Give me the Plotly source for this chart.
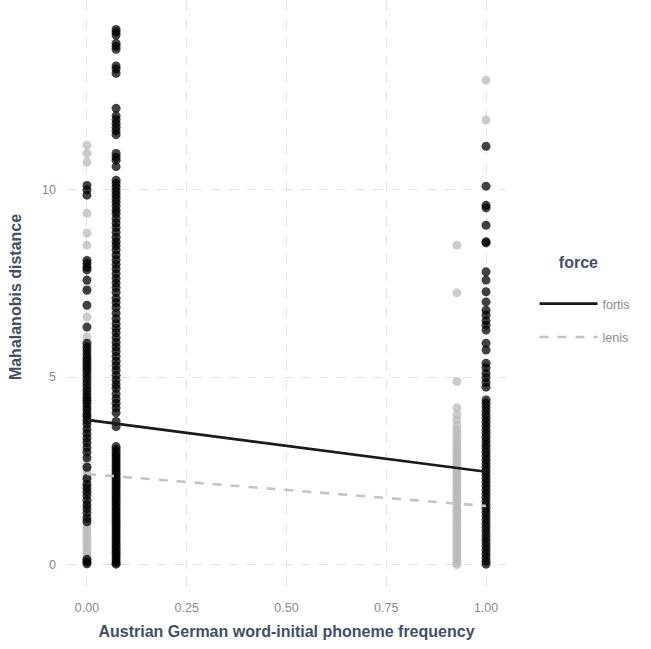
import plotly.graph_objects as go

# x positions (phoneme frequency) of the point columns
x_zero = 0.0
x_low = 0.073
x_high = 0.927
x_one = 1.0

# Mahalanobis distances
fortis_at_zero = [10.1, 9.98, 9.84, 8.1, 8.02, 7.92, 7.85, 7.58, 7.31, 6.91, 6.33, 5.9, 5.8, 5.7, 5.6,
                  5.5, 5.42, 5.33, 5.25, 5.15, 5.05, 4.95, 4.85, 4.75, 4.65, 4.55, 4.45, 4.38, 4.3, 4.2,
                  4.12, 4.02, 3.95, 3.85, 3.75, 3.62, 3.5, 3.38, 3.25, 3.12, 3.0, 2.85, 2.6, 2.3, 2.15,
                  2.05, 1.95, 1.85, 1.72, 1.6, 1.5, 1.38, 1.25, 1.15, 0.15, 0.08, 0.03]
lenis_at_zero = [11.17, 10.95, 10.72, 9.36, 8.83, 8.51, 7.95, 7.4, 6.6, 6.06, 5.2, 4.6, 3.3, 2.75, 2.6,
                 2.5, 2.4, 2.3, 2.2, 1.05, 0.95, 0.85, 0.75, 0.65, 0.55, 0.45, 0.35, 0.25, 0.12]
fortis_at_low = [14.25, 14.18, 14.1, 13.88, 13.8, 13.72, 13.28, 13.2, 13.08, 12.15, 11.95, 11.85, 11.75,
                 11.65, 11.55, 11.45, 10.95, 10.85, 10.77, 10.6, 10.24, 10.15, 10.05, 9.95, 9.85, 9.75,
                 9.65, 9.55, 9.44, 9.35, 9.22, 9.1, 8.98, 8.85, 8.72, 8.6, 8.5, 8.38, 8.25, 8.12, 8.0,
                 7.88, 7.75, 7.62, 7.5, 7.38, 7.25, 7.1, 6.98, 6.85, 6.7, 6.55, 6.42, 6.3, 6.18, 6.05,
                 5.92, 5.8, 5.68, 5.55, 5.42, 5.3, 5.18, 5.05, 4.92, 4.8, 4.7, 4.55, 4.42, 4.3, 4.18,
                 4.05, 3.82, 3.68, 3.15, 3.08, 3.0, 2.93, 2.86, 2.79, 2.72, 2.65, 2.58, 2.51, 2.44, 2.37,
                 2.3, 2.23, 2.16, 2.09, 2.02, 1.95, 1.88, 1.81, 1.74, 1.67, 1.6, 1.53, 1.46, 1.39, 1.32,
                 1.25, 1.18, 1.11, 1.04, 0.97, 0.9, 0.83, 0.76, 0.69, 0.62, 0.55, 0.48, 0.41, 0.34, 0.27,
                 0.2, 0.13, 0.06, 0.02]
lenis_at_high = [8.51, 7.24, 4.88, 4.18, 4.0, 3.86, 3.72, 3.6, 3.5, 3.4, 3.3, 3.2, 3.1, 3.02, 2.94, 2.86,
                 2.78, 2.7, 2.62, 2.54, 2.46, 2.38, 2.3, 2.22, 2.14, 2.06, 1.98, 1.9, 1.82, 1.74, 1.66,
                 1.58, 1.5, 1.42, 1.34, 1.26, 1.18, 1.1, 1.02, 0.94, 0.86, 0.78, 0.7, 0.62, 0.54, 0.46,
                 0.38, 0.3, 0.22, 0.14, 0.06, 0.01]
fortis_at_one = [11.14, 10.08, 9.57, 9.5, 9.04, 8.6, 8.57, 7.8, 7.58, 7.27, 7.0, 6.78, 6.65, 6.5, 6.38,
                 6.25, 5.9, 5.72, 5.37, 5.25, 5.1, 4.98, 4.85, 4.73, 4.39, 4.3, 4.2, 4.1, 4.0, 3.9, 3.8,
                 3.7, 3.6, 3.5, 3.4, 3.3, 3.2, 3.1, 3.0, 2.9, 2.8, 2.7, 2.6, 2.5, 2.4, 2.3, 2.2, 2.1,
                 2.0, 1.9, 1.8, 1.7, 1.6, 1.5, 1.4, 1.3, 1.2, 1.1, 1.0, 0.9, 0.8, 0.7, 0.6, 0.5, 0.4,
                 0.3, 0.2, 0.1, 0.02]
lenis_at_one = [12.9, 11.84]

# fitted regression lines
line_x = [0.0, 1.0]
fortis_fit = [3.86, 2.48]
lenis_fit = [2.42, 1.57]

fortis_pt = "rgba(0,0,0,0.74)"
lenis_pt = "rgba(185,185,185,0.72)"
title_col = "#3f5068"
tick_col = "#8a8a8a"

fig = go.Figure()

lenis_x = [x_zero] * len(lenis_at_zero) + [x_high] * len(lenis_at_high) + [x_one] * len(lenis_at_one)
lenis_y = lenis_at_zero + lenis_at_high + lenis_at_one
fortis_x = [x_zero] * len(fortis_at_zero) + [x_low] * len(fortis_at_low) + [x_one] * len(fortis_at_one)
fortis_y = fortis_at_zero + fortis_at_low + fortis_at_one

fig.add_trace(go.Scatter(x=lenis_x, y=lenis_y, mode="markers", showlegend=False,
                         marker=dict(size=9, color=lenis_pt, line=dict(width=0)), hoverinfo="skip"))
fig.add_trace(go.Scatter(x=fortis_x, y=fortis_y, mode="markers", showlegend=False,
                         marker=dict(size=9, color=fortis_pt, line=dict(width=0)), hoverinfo="skip"))

fig.add_trace(go.Scatter(x=line_x, y=fortis_fit, mode="lines", name="fortis", legendgroup="a",
                         line=dict(color="#1a1a1a", width=2.6)))
fig.add_trace(go.Scatter(x=line_x, y=lenis_fit, mode="lines", name="lenis", legendgroup="b",
                         line=dict(color="#c4c4c4", width=2.6, dash="dash")))

fig.update_layout(
    width=651, height=649,
    margin=dict(l=67, r=145, t=2, b=57),
    paper_bgcolor="white", plot_bgcolor="white",
    font=dict(family="Liberation Sans, Arial, sans-serif", size=12, color=tick_col),
    legend=dict(
        title=dict(text="<b>force</b>   <br> ", font=dict(size=16, color=title_col), side="top center"),
        x=1.065, xanchor="left", y=0.495, yanchor="middle",
        font=dict(size=12.5, color=tick_col),
        itemwidth=58, tracegroupgap=14,
        bgcolor="rgba(0,0,0,0)",
    ),
)

fig.update_xaxes(
    range=[-0.05, 1.05],
    tickvals=[0, 0.25, 0.5, 0.75, 1.0],
    ticktext=["0.00", "0.25", "0.50", "0.75", "1.00"],
    showgrid=True, gridcolor="#e3e3e3", griddash="dash", gridwidth=1,
    zeroline=False, showline=False, ticks="",
    tickfont=dict(size=12.5, color=tick_col), ticklabelstandoff=6,
    title=dict(text="<b>Austrian German word-initial phoneme frequency</b>",
               font=dict(size=16, color=title_col), standoff=12),
)
fig.update_yaxes(
    range=[-0.72, 14.98],
    tickvals=[0, 5, 10],
    showgrid=True, gridcolor="#e3e3e3", griddash="dash", gridwidth=1,
    zeroline=False, showline=False, ticks="",
    tickfont=dict(size=12.5, color=tick_col), ticklabelstandoff=10,
    title=dict(text="<b>Mahalanobis distance</b>",
               font=dict(size=16, color=title_col), standoff=16),
)

fig.write_html("out.html")
